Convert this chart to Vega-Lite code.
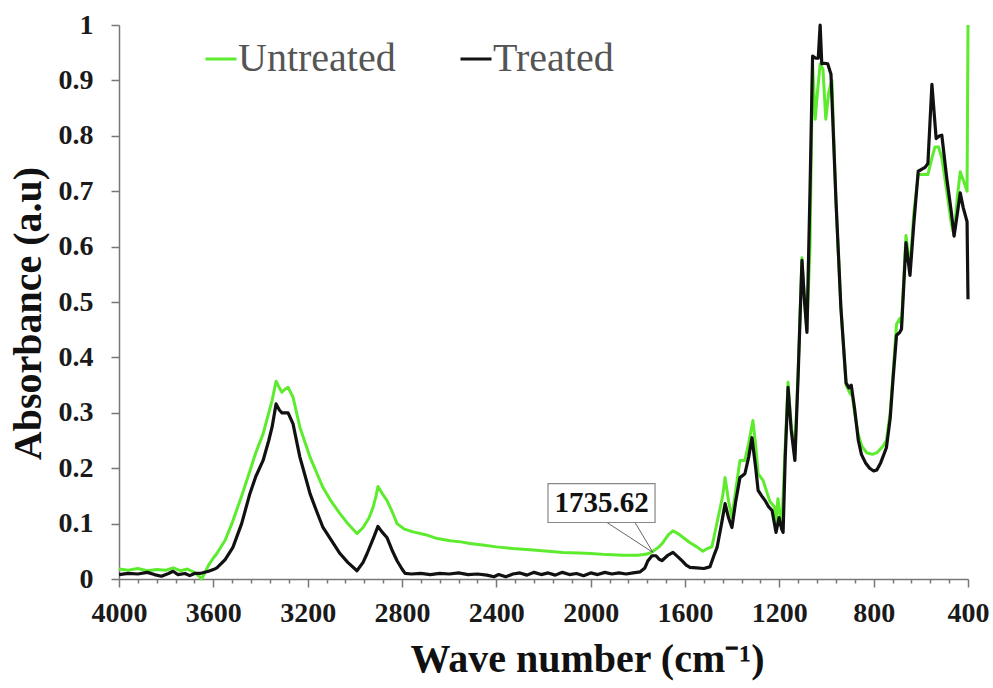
{
  "$schema": "https://vega.github.io/schema/vega-lite/v6.json",
  "width": 849,
  "height": 554,
  "autosize": {"type": "none"},
  "padding": {"left": 119, "top": 25, "right": 25, "bottom": 109},
  "background": "white",
  "config": {
    "view": {"stroke": null},
    "font": "Liberation Serif"
  },
  "datasets": {
    "spectra": [
      {"w": 4000, "a": 0.018, "s": "Untreated"}, {"w": 3960, "a": 0.016, "s": "Untreated"}, {"w": 3920, "a": 0.019, "s": "Untreated"}, {"w": 3880, "a": 0.015, "s": "Untreated"}, {"w": 3840, "a": 0.017, "s": "Untreated"}, {"w": 3800, "a": 0.016, "s": "Untreated"}, {"w": 3770, "a": 0.02, "s": "Untreated"}, {"w": 3740, "a": 0.015, "s": "Untreated"}, {"w": 3710, "a": 0.018, "s": "Untreated"}, {"w": 3680, "a": 0.012, "s": "Untreated"}, {"w": 3660, "a": 0.005, "s": "Untreated"}, {"w": 3650, "a": 0.0, "s": "Untreated"}, {"w": 3640, "a": 0.008, "s": "Untreated"}, {"w": 3620, "a": 0.025, "s": "Untreated"}, {"w": 3600, "a": 0.038, "s": "Untreated"}, {"w": 3585, "a": 0.046, "s": "Untreated"}, {"w": 3550, "a": 0.07, "s": "Untreated"}, {"w": 3517, "a": 0.105, "s": "Untreated"}, {"w": 3480, "a": 0.15, "s": "Untreated"}, {"w": 3445, "a": 0.195, "s": "Untreated"}, {"w": 3420, "a": 0.228, "s": "Untreated"}, {"w": 3389, "a": 0.262, "s": "Untreated"}, {"w": 3365, "a": 0.3, "s": "Untreated"}, {"w": 3351, "a": 0.322, "s": "Untreated"}, {"w": 3334, "a": 0.357, "s": "Untreated"}, {"w": 3320, "a": 0.345, "s": "Untreated"}, {"w": 3309, "a": 0.337, "s": "Untreated"}, {"w": 3295, "a": 0.343, "s": "Untreated"}, {"w": 3283, "a": 0.346, "s": "Untreated"}, {"w": 3262, "a": 0.328, "s": "Untreated"}, {"w": 3233, "a": 0.274, "s": "Untreated"}, {"w": 3210, "a": 0.245, "s": "Untreated"}, {"w": 3190, "a": 0.22, "s": "Untreated"}, {"w": 3160, "a": 0.19, "s": "Untreated"}, {"w": 3135, "a": 0.165, "s": "Untreated"}, {"w": 3100, "a": 0.14, "s": "Untreated"}, {"w": 3063, "a": 0.118, "s": "Untreated"}, {"w": 3030, "a": 0.1, "s": "Untreated"}, {"w": 2991, "a": 0.082, "s": "Untreated"}, {"w": 2965, "a": 0.093, "s": "Untreated"}, {"w": 2940, "a": 0.11, "s": "Untreated"}, {"w": 2923, "a": 0.129, "s": "Untreated"}, {"w": 2910, "a": 0.15, "s": "Untreated"}, {"w": 2902, "a": 0.167, "s": "Untreated"}, {"w": 2885, "a": 0.155, "s": "Untreated"}, {"w": 2864, "a": 0.142, "s": "Untreated"}, {"w": 2840, "a": 0.12, "s": "Untreated"}, {"w": 2821, "a": 0.1, "s": "Untreated"}, {"w": 2790, "a": 0.09, "s": "Untreated"}, {"w": 2753, "a": 0.085, "s": "Untreated"}, {"w": 2700, "a": 0.08, "s": "Untreated"}, {"w": 2650, "a": 0.073, "s": "Untreated"}, {"w": 2596, "a": 0.069, "s": "Untreated"}, {"w": 2550, "a": 0.067, "s": "Untreated"}, {"w": 2512, "a": 0.064, "s": "Untreated"}, {"w": 2450, "a": 0.061, "s": "Untreated"}, {"w": 2400, "a": 0.058, "s": "Untreated"}, {"w": 2330, "a": 0.055, "s": "Untreated"}, {"w": 2257, "a": 0.053, "s": "Untreated"}, {"w": 2180, "a": 0.05, "s": "Untreated"}, {"w": 2117, "a": 0.048, "s": "Untreated"}, {"w": 2050, "a": 0.047, "s": "Untreated"}, {"w": 2000, "a": 0.046, "s": "Untreated"}, {"w": 1930, "a": 0.044, "s": "Untreated"}, {"w": 1863, "a": 0.043, "s": "Untreated"}, {"w": 1800, "a": 0.043, "s": "Untreated"}, {"w": 1760, "a": 0.045, "s": "Untreated"}, {"w": 1736, "a": 0.05, "s": "Untreated"}, {"w": 1710, "a": 0.058, "s": "Untreated"}, {"w": 1693, "a": 0.066, "s": "Untreated"}, {"w": 1670, "a": 0.08, "s": "Untreated"}, {"w": 1651, "a": 0.087, "s": "Untreated"}, {"w": 1630, "a": 0.082, "s": "Untreated"}, {"w": 1608, "a": 0.075, "s": "Untreated"}, {"w": 1580, "a": 0.066, "s": "Untreated"}, {"w": 1550, "a": 0.058, "s": "Untreated"}, {"w": 1524, "a": 0.05, "s": "Untreated"}, {"w": 1505, "a": 0.055, "s": "Untreated"}, {"w": 1486, "a": 0.058, "s": "Untreated"}, {"w": 1460, "a": 0.11, "s": "Untreated"}, {"w": 1440, "a": 0.15, "s": "Untreated"}, {"w": 1430, "a": 0.183, "s": "Untreated"}, {"w": 1415, "a": 0.14, "s": "Untreated"}, {"w": 1401, "a": 0.111, "s": "Untreated"}, {"w": 1385, "a": 0.16, "s": "Untreated"}, {"w": 1367, "a": 0.214, "s": "Untreated"}, {"w": 1346, "a": 0.214, "s": "Untreated"}, {"w": 1330, "a": 0.245, "s": "Untreated"}, {"w": 1312, "a": 0.286, "s": "Untreated"}, {"w": 1300, "a": 0.24, "s": "Untreated"}, {"w": 1290, "a": 0.19, "s": "Untreated"}, {"w": 1269, "a": 0.178, "s": "Untreated"}, {"w": 1240, "a": 0.14, "s": "Untreated"}, {"w": 1220, "a": 0.13, "s": "Untreated"}, {"w": 1214, "a": 0.1, "s": "Untreated"}, {"w": 1206, "a": 0.145, "s": "Untreated"}, {"w": 1195, "a": 0.11, "s": "Untreated"}, {"w": 1189, "a": 0.1, "s": "Untreated"}, {"w": 1175, "a": 0.24, "s": "Untreated"}, {"w": 1163, "a": 0.355, "s": "Untreated"}, {"w": 1150, "a": 0.28, "s": "Untreated"}, {"w": 1134, "a": 0.225, "s": "Untreated"}, {"w": 1120, "a": 0.38, "s": "Untreated"}, {"w": 1104, "a": 0.58, "s": "Untreated"}, {"w": 1093, "a": 0.5, "s": "Untreated"}, {"w": 1083, "a": 0.45, "s": "Untreated"}, {"w": 1070, "a": 0.6, "s": "Untreated"}, {"w": 1059, "a": 0.93, "s": "Untreated"}, {"w": 1048, "a": 0.83, "s": "Untreated"}, {"w": 1038, "a": 0.88, "s": "Untreated"}, {"w": 1027, "a": 0.93, "s": "Untreated"}, {"w": 1015, "a": 0.92, "s": "Untreated"}, {"w": 1003, "a": 0.83, "s": "Untreated"}, {"w": 990, "a": 0.88, "s": "Untreated"}, {"w": 977, "a": 0.9, "s": "Untreated"}, {"w": 960, "a": 0.68, "s": "Untreated"}, {"w": 939, "a": 0.49, "s": "Untreated"}, {"w": 917, "a": 0.35, "s": "Untreated"}, {"w": 900, "a": 0.335, "s": "Untreated"}, {"w": 890, "a": 0.33, "s": "Untreated"}, {"w": 881, "a": 0.3, "s": "Untreated"}, {"w": 865, "a": 0.26, "s": "Untreated"}, {"w": 850, "a": 0.24, "s": "Untreated"}, {"w": 830, "a": 0.228, "s": "Untreated"}, {"w": 805, "a": 0.225, "s": "Untreated"}, {"w": 786, "a": 0.228, "s": "Untreated"}, {"w": 760, "a": 0.24, "s": "Untreated"}, {"w": 746, "a": 0.25, "s": "Untreated"}, {"w": 730, "a": 0.3, "s": "Untreated"}, {"w": 718, "a": 0.37, "s": "Untreated"}, {"w": 703, "a": 0.46, "s": "Untreated"}, {"w": 690, "a": 0.47, "s": "Untreated"}, {"w": 682, "a": 0.46, "s": "Untreated"}, {"w": 663, "a": 0.62, "s": "Untreated"}, {"w": 646, "a": 0.56, "s": "Untreated"}, {"w": 630, "a": 0.66, "s": "Untreated"}, {"w": 611, "a": 0.73, "s": "Untreated"}, {"w": 582, "a": 0.73, "s": "Untreated"}, {"w": 570, "a": 0.73, "s": "Untreated"}, {"w": 553, "a": 0.76, "s": "Untreated"}, {"w": 540, "a": 0.78, "s": "Untreated"}, {"w": 525, "a": 0.78, "s": "Untreated"}, {"w": 511, "a": 0.76, "s": "Untreated"}, {"w": 490, "a": 0.7, "s": "Untreated"}, {"w": 470, "a": 0.64, "s": "Untreated"}, {"w": 459, "a": 0.62, "s": "Untreated"}, {"w": 445, "a": 0.69, "s": "Untreated"}, {"w": 433, "a": 0.735, "s": "Untreated"}, {"w": 420, "a": 0.72, "s": "Untreated"}, {"w": 404, "a": 0.7, "s": "Untreated"}, {"w": 400, "a": 1.0, "s": "Untreated"},

      {"w": 4000, "a": 0.008, "s": "Treated"}, {"w": 3960, "a": 0.01, "s": "Treated"}, {"w": 3920, "a": 0.009, "s": "Treated"}, {"w": 3880, "a": 0.012, "s": "Treated"}, {"w": 3850, "a": 0.008, "s": "Treated"}, {"w": 3820, "a": 0.005, "s": "Treated"}, {"w": 3790, "a": 0.01, "s": "Treated"}, {"w": 3771, "a": 0.014, "s": "Treated"}, {"w": 3750, "a": 0.008, "s": "Treated"}, {"w": 3720, "a": 0.01, "s": "Treated"}, {"w": 3700, "a": 0.006, "s": "Treated"}, {"w": 3680, "a": 0.01, "s": "Treated"}, {"w": 3657, "a": 0.01, "s": "Treated"}, {"w": 3620, "a": 0.014, "s": "Treated"}, {"w": 3600, "a": 0.017, "s": "Treated"}, {"w": 3585, "a": 0.02, "s": "Treated"}, {"w": 3550, "a": 0.035, "s": "Treated"}, {"w": 3517, "a": 0.057, "s": "Treated"}, {"w": 3480, "a": 0.1, "s": "Treated"}, {"w": 3445, "a": 0.154, "s": "Treated"}, {"w": 3420, "a": 0.185, "s": "Treated"}, {"w": 3389, "a": 0.214, "s": "Treated"}, {"w": 3365, "a": 0.25, "s": "Treated"}, {"w": 3351, "a": 0.274, "s": "Treated"}, {"w": 3334, "a": 0.316, "s": "Treated"}, {"w": 3320, "a": 0.305, "s": "Treated"}, {"w": 3309, "a": 0.3, "s": "Treated"}, {"w": 3283, "a": 0.3, "s": "Treated"}, {"w": 3262, "a": 0.28, "s": "Treated"}, {"w": 3233, "a": 0.22, "s": "Treated"}, {"w": 3210, "a": 0.185, "s": "Treated"}, {"w": 3190, "a": 0.154, "s": "Treated"}, {"w": 3160, "a": 0.12, "s": "Treated"}, {"w": 3135, "a": 0.093, "s": "Treated"}, {"w": 3100, "a": 0.07, "s": "Treated"}, {"w": 3063, "a": 0.046, "s": "Treated"}, {"w": 3030, "a": 0.03, "s": "Treated"}, {"w": 2991, "a": 0.015, "s": "Treated"}, {"w": 2965, "a": 0.03, "s": "Treated"}, {"w": 2948, "a": 0.046, "s": "Treated"}, {"w": 2920, "a": 0.075, "s": "Treated"}, {"w": 2902, "a": 0.095, "s": "Treated"}, {"w": 2885, "a": 0.085, "s": "Treated"}, {"w": 2864, "a": 0.075, "s": "Treated"}, {"w": 2840, "a": 0.05, "s": "Treated"}, {"w": 2821, "a": 0.033, "s": "Treated"}, {"w": 2800, "a": 0.018, "s": "Treated"}, {"w": 2787, "a": 0.01, "s": "Treated"}, {"w": 2760, "a": 0.009, "s": "Treated"}, {"w": 2720, "a": 0.01, "s": "Treated"}, {"w": 2680, "a": 0.008, "s": "Treated"}, {"w": 2640, "a": 0.01, "s": "Treated"}, {"w": 2600, "a": 0.009, "s": "Treated"}, {"w": 2560, "a": 0.011, "s": "Treated"}, {"w": 2520, "a": 0.008, "s": "Treated"}, {"w": 2480, "a": 0.009, "s": "Treated"}, {"w": 2440, "a": 0.007, "s": "Treated"}, {"w": 2410, "a": 0.004, "s": "Treated"}, {"w": 2390, "a": 0.008, "s": "Treated"}, {"w": 2360, "a": 0.004, "s": "Treated"}, {"w": 2330, "a": 0.009, "s": "Treated"}, {"w": 2300, "a": 0.011, "s": "Treated"}, {"w": 2270, "a": 0.007, "s": "Treated"}, {"w": 2240, "a": 0.012, "s": "Treated"}, {"w": 2210, "a": 0.008, "s": "Treated"}, {"w": 2180, "a": 0.011, "s": "Treated"}, {"w": 2150, "a": 0.007, "s": "Treated"}, {"w": 2120, "a": 0.012, "s": "Treated"}, {"w": 2090, "a": 0.008, "s": "Treated"}, {"w": 2060, "a": 0.01, "s": "Treated"}, {"w": 2030, "a": 0.006, "s": "Treated"}, {"w": 2000, "a": 0.011, "s": "Treated"}, {"w": 1970, "a": 0.008, "s": "Treated"}, {"w": 1940, "a": 0.012, "s": "Treated"}, {"w": 1910, "a": 0.009, "s": "Treated"}, {"w": 1880, "a": 0.011, "s": "Treated"}, {"w": 1850, "a": 0.009, "s": "Treated"}, {"w": 1820, "a": 0.011, "s": "Treated"}, {"w": 1790, "a": 0.013, "s": "Treated"}, {"w": 1770, "a": 0.02, "s": "Treated"}, {"w": 1757, "a": 0.033, "s": "Treated"}, {"w": 1740, "a": 0.042, "s": "Treated"}, {"w": 1723, "a": 0.042, "s": "Treated"}, {"w": 1710, "a": 0.036, "s": "Treated"}, {"w": 1698, "a": 0.033, "s": "Treated"}, {"w": 1675, "a": 0.042, "s": "Treated"}, {"w": 1651, "a": 0.048, "s": "Treated"}, {"w": 1630, "a": 0.04, "s": "Treated"}, {"w": 1613, "a": 0.033, "s": "Treated"}, {"w": 1595, "a": 0.025, "s": "Treated"}, {"w": 1579, "a": 0.021, "s": "Treated"}, {"w": 1550, "a": 0.02, "s": "Treated"}, {"w": 1520, "a": 0.019, "s": "Treated"}, {"w": 1503, "a": 0.021, "s": "Treated"}, {"w": 1494, "a": 0.022, "s": "Treated"}, {"w": 1475, "a": 0.045, "s": "Treated"}, {"w": 1464, "a": 0.057, "s": "Treated"}, {"w": 1445, "a": 0.1, "s": "Treated"}, {"w": 1430, "a": 0.136, "s": "Treated"}, {"w": 1415, "a": 0.11, "s": "Treated"}, {"w": 1401, "a": 0.093, "s": "Treated"}, {"w": 1385, "a": 0.14, "s": "Treated"}, {"w": 1367, "a": 0.183, "s": "Treated"}, {"w": 1346, "a": 0.19, "s": "Treated"}, {"w": 1330, "a": 0.22, "s": "Treated"}, {"w": 1316, "a": 0.255, "s": "Treated"}, {"w": 1300, "a": 0.2, "s": "Treated"}, {"w": 1290, "a": 0.16, "s": "Treated"}, {"w": 1275, "a": 0.15, "s": "Treated"}, {"w": 1261, "a": 0.142, "s": "Treated"}, {"w": 1245, "a": 0.13, "s": "Treated"}, {"w": 1231, "a": 0.124, "s": "Treated"}, {"w": 1214, "a": 0.084, "s": "Treated"}, {"w": 1201, "a": 0.111, "s": "Treated"}, {"w": 1190, "a": 0.09, "s": "Treated"}, {"w": 1184, "a": 0.084, "s": "Treated"}, {"w": 1175, "a": 0.22, "s": "Treated"}, {"w": 1163, "a": 0.346, "s": "Treated"}, {"w": 1150, "a": 0.27, "s": "Treated"}, {"w": 1134, "a": 0.214, "s": "Treated"}, {"w": 1120, "a": 0.37, "s": "Treated"}, {"w": 1104, "a": 0.575, "s": "Treated"}, {"w": 1093, "a": 0.5, "s": "Treated"}, {"w": 1083, "a": 0.445, "s": "Treated"}, {"w": 1070, "a": 0.7, "s": "Treated"}, {"w": 1059, "a": 0.944, "s": "Treated"}, {"w": 1045, "a": 0.94, "s": "Treated"}, {"w": 1035, "a": 0.94, "s": "Treated"}, {"w": 1027, "a": 1.0, "s": "Treated"}, {"w": 1020, "a": 0.93, "s": "Treated"}, {"w": 1009, "a": 0.931, "s": "Treated"}, {"w": 995, "a": 0.93, "s": "Treated"}, {"w": 981, "a": 0.911, "s": "Treated"}, {"w": 960, "a": 0.685, "s": "Treated"}, {"w": 939, "a": 0.49, "s": "Treated"}, {"w": 917, "a": 0.354, "s": "Treated"}, {"w": 905, "a": 0.345, "s": "Treated"}, {"w": 895, "a": 0.35, "s": "Treated"}, {"w": 881, "a": 0.308, "s": "Treated"}, {"w": 865, "a": 0.25, "s": "Treated"}, {"w": 852, "a": 0.225, "s": "Treated"}, {"w": 835, "a": 0.21, "s": "Treated"}, {"w": 817, "a": 0.2, "s": "Treated"}, {"w": 800, "a": 0.195, "s": "Treated"}, {"w": 786, "a": 0.197, "s": "Treated"}, {"w": 770, "a": 0.21, "s": "Treated"}, {"w": 746, "a": 0.237, "s": "Treated"}, {"w": 730, "a": 0.29, "s": "Treated"}, {"w": 718, "a": 0.36, "s": "Treated"}, {"w": 703, "a": 0.44, "s": "Treated"}, {"w": 690, "a": 0.445, "s": "Treated"}, {"w": 682, "a": 0.451, "s": "Treated"}, {"w": 663, "a": 0.607, "s": "Treated"}, {"w": 646, "a": 0.548, "s": "Treated"}, {"w": 630, "a": 0.64, "s": "Treated"}, {"w": 611, "a": 0.736, "s": "Treated"}, {"w": 582, "a": 0.743, "s": "Treated"}, {"w": 570, "a": 0.75, "s": "Treated"}, {"w": 553, "a": 0.893, "s": "Treated"}, {"w": 535, "a": 0.795, "s": "Treated"}, {"w": 520, "a": 0.8, "s": "Treated"}, {"w": 511, "a": 0.801, "s": "Treated"}, {"w": 490, "a": 0.723, "s": "Treated"}, {"w": 470, "a": 0.66, "s": "Treated"}, {"w": 459, "a": 0.619, "s": "Treated"}, {"w": 445, "a": 0.66, "s": "Treated"}, {"w": 433, "a": 0.697, "s": "Treated"}, {"w": 420, "a": 0.67, "s": "Treated"}, {"w": 404, "a": 0.645, "s": "Treated"}, {"w": 400, "a": 0.505, "s": "Treated"}
    ],
    "box": [{"x1": 2181, "x2": 1727, "y1": 0.102, "y2": 0.172, "xt": 1954, "yt": 0.137, "label": "1735.62"}],
    "leaders": [
      {"x1": 1931, "y1": 0.102, "x2": 1736, "y2": 0.048},
      {"x1": 1812, "y1": 0.102, "x2": 1736, "y2": 0.048}
    ]
  },
  "layer": [
    {
      "data": {"name": "spectra"},
      "transform": [{"filter": "datum.s === 'Untreated'"}],
      "mark": {"type": "line", "strokeWidth": 3, "strokeJoin": "round"},
      "encoding": {
        "x": {
          "field": "w", "type": "quantitative",
          "scale": {"domain": [400, 4000], "reverse": true, "nice": false, "zero": false},
          "axis": {
            "title": "Wave number  (cm⁻¹)",
            "titleFont": "Liberation Serif", "titleFontSize": 40, "titleFontWeight": "bold", "titleColor": "#111",
            "titleX": 468, "titleAlign": "center", "titlePadding": 12,
            "tickCount": 100,
            "values": [400, 480, 560, 640, 720, 800, 880, 960, 1040, 1120, 1200, 1280, 1360, 1440, 1520, 1600, 1680, 1760, 1840, 1920, 2000, 2080, 2160, 2240, 2320, 2400, 2480, 2560, 2640, 2720, 2800, 2880, 2960, 3040, 3120, 3200, 3280, 3360, 3440, 3520, 3600, 3680, 3760, 3840, 3920, 4000],
            "labelExpr": "datum.value % 400 === 0 ? format(datum.value, 'd') : ''",
            "labelFont": "Liberation Serif", "labelFontSize": 28, "labelFontWeight": "bold", "labelColor": "#1a1a1a",
            "labelPadding": 12, "labelOverlap": false, "labelFlush": false,
            "tickSize": {"condition": {"test": "datum.value % 400 === 0", "value": 8}, "value": 4},
            "tickColor": "#777", "tickWidth": 1.5,
            "domainColor": "#777", "domainWidth": 1.5, "grid": false
          }
        },
        "y": {
          "field": "a", "type": "quantitative",
          "scale": {"domain": [0, 1], "nice": false},
          "axis": {
            "title": "Absorbance (a.u)",
            "titleFont": "Liberation Serif", "titleFontSize": 40, "titleFontWeight": "bold", "titleColor": "#111",
            "titleY": 288, "titlePadding": 10,
            "tickCount": 20,
            "values": [0, 0.1, 0.2, 0.3, 0.4, 0.5, 0.6, 0.7, 0.8, 0.9, 1],
            "labelExpr": "datum.value === 0 ? '0' : datum.value === 1 ? '1' : format(datum.value, '.1f')",
            "labelFont": "Liberation Serif", "labelFontSize": 28, "labelFontWeight": "bold", "labelColor": "#1a1a1a",
            "labelPadding": 18, "labelFlush": false, "labelOverlap": false,
            "tickSize": 8, "tickColor": "#777", "tickWidth": 1.5,
            "domainColor": "#777", "domainWidth": 1.5, "grid": false
          }
        },
        "color": {
          "field": "s", "type": "nominal",
          "scale": {"domain": ["Untreated", "Treated"], "range": ["#5DEB2E", "#111111"]},
          "legend": {
            "title": null, "orient": "none", "legendX": 82, "legendY": 14,
            "direction": "horizontal", "symbolType": "stroke", "symbolSize": 961, "symbolStrokeWidth": 3,
            "labelFont": "Liberation Serif", "labelFontSize": 40, "labelColor": "#555",
            "labelOffset": -3, "columnPadding": 58, "rowPadding": 0
          }
        }
      }
    },
    {
      "data": {"name": "spectra"},
      "transform": [{"filter": "datum.s === 'Treated'"}],
      "mark": {"type": "line", "strokeWidth": 3.2, "strokeJoin": "round"},
      "encoding": {
        "x": {"field": "w", "type": "quantitative"},
        "y": {"field": "a", "type": "quantitative"},
        "color": {"field": "s", "type": "nominal"}
      }
    },
    {
      "data": {"name": "leaders"},
      "mark": {"type": "rule", "color": "#666", "strokeWidth": 1},
      "encoding": {
        "x": {"field": "x1", "type": "quantitative"},
        "y": {"field": "y1", "type": "quantitative"},
        "x2": {"field": "x2"},
        "y2": {"field": "y2"}
      }
    },
    {
      "data": {"name": "box"},
      "mark": {"type": "rect", "fill": "white", "stroke": "#888", "strokeWidth": 1.2},
      "encoding": {
        "x": {"field": "x1", "type": "quantitative"},
        "x2": {"field": "x2"},
        "y": {"field": "y1", "type": "quantitative"},
        "y2": {"field": "y2"}
      }
    },
    {
      "data": {"name": "box"},
      "mark": {"type": "text", "font": "Liberation Serif", "fontSize": 29, "fontWeight": "bold", "color": "#111", "align": "center", "baseline": "middle"},
      "encoding": {
        "x": {"field": "xt", "type": "quantitative"},
        "y": {"field": "yt", "type": "quantitative"},
        "text": {"field": "label"}
      }
    }
  ]
}
